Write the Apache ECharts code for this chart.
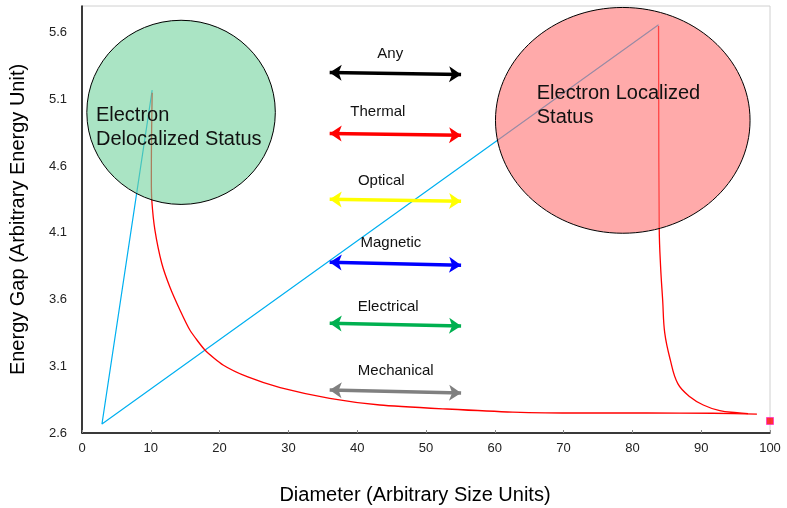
<!DOCTYPE html>
<html>
<head>
<meta charset="utf-8">
<script src="https://cdn.jsdelivr.net/npm/echarts@6/dist/echarts.min.js"></script>
<style>
  html, body { margin: 0; padding: 0; background: #fff; }
  #main { width: 787px; height: 508px; }
</style>
</head>
<body>
<div id="main"></div>
<script>
// red curve, small particles (delocalized branch)
const delocCurve = [
  [10.2, 5.15], [10.1, 4.8], [10.08, 4.5], [10.15, 4.34], [10.6, 4.12], [11.6, 3.87],
  [12.8, 3.69], [14.25, 3.52], [15.7, 3.37], [17.9, 3.22], [20.5, 3.11], [24.1, 3.02],
  [28.8, 2.94], [36.0, 2.86], [43.3, 2.81], [53.0, 2.78], [62.6, 2.757], [72.4, 2.75],
  [82.1, 2.75], [91.7, 2.748], [98.1, 2.742]
];
// red curve, localized branch
const localCurve = [
  [83.8, 5.65], [83.9, 4.13], [84.1, 3.845], [84.4, 3.595], [84.7, 3.35], [85.5, 3.15],
  [86.6, 2.97], [88.4, 2.87], [90.3, 2.81], [92.7, 2.767], [95.2, 2.752], [96.8, 2.745]
];
// blue guide line
const blueLine = [[10.2, 5.17], [2.9, 2.667], [83.8, 5.66]];
// lone marker
const cornerPoint = [[100, 2.69]];

// arrows
const arrowNames = ['Any', 'Thermal', 'Optical', 'Magnetic', 'Electrical', 'Mechanical'];
const arrowXFrom = 36.0;
const arrowXTo = 55.1;
const arrowYLeft = [5.302, 4.845, 4.352, 3.880, 3.423, 2.922];
const arrowYRight = [5.287, 4.831, 4.337, 3.858, 3.401, 2.899];
const arrowLabelX = [44.8, 43.0, 43.5, 44.9, 44.5, 45.6];
const arrowLabelY = [5.444, 5.010, 4.486, 4.022, 3.543, 3.064];

// ellipses: [cx, cy, rx, ry]
const ellipseData = [
  [14.4, 5.003, 13.7, 0.69],
  [78.6, 4.943, 18.5, 0.846]
];
const ellipseText = ['Electron\nDelocalized Status', 'Electron Localized\nStatus'];
const ellipseTextPos = [[2.03, 5.07], [66.1, 5.235]];

const arrowColors = ['#000000', '#ff0000', '#ffff00', '#0000ff', '#00b050', '#808080'];
const ellipseFills = ['rgba(113,210,157,0.6)', 'rgba(255,113,113,0.6)'];
const FONT = 'Liberation Sans, Arial, sans-serif';

const chart = echarts.init(document.getElementById('main'));

const arrowLines = arrowNames.map(function (n, i) {
  return {
    name: n,
    coords: [[arrowXFrom, arrowYLeft[i]], [arrowXTo, arrowYRight[i]]],
    lineStyle: { color: arrowColors[i] }
  };
});

chart.setOption({
  animation: false,
  grid: {
    left: 82, right: 17, top: 6, bottom: 75,
    containLabel: false, outerBoundsMode: 'none',
    show: true, borderColor: '#d0d0d0', borderWidth: 1
  },
  xAxis: {
    type: 'value', min: 0, max: 100, interval: 10,
    name: 'Diameter (Arbitrary Size Units)',
    nameLocation: 'middle', nameGap: 52,
    nameTextStyle: { fontFamily: FONT, fontSize: 20, color: '#000', padding: [0, 22, 0, 0] },
    axisLine: { lineStyle: { color: '#000', width: 1.5 } },
    axisTick: { inside: true, length: 3, lineStyle: { color: '#888' } },
    axisLabel: { fontFamily: FONT, fontSize: 13, color: '#222', margin: 9 },
    splitLine: { show: false }
  },
  yAxis: {
    type: 'value', min: 2.6, max: 5.8, interval: 0.5,
    name: 'Energy Gap (Arbitrary Energy Unit)',
    nameLocation: 'middle', nameGap: 54,
    nameTextStyle: { fontFamily: FONT, fontSize: 20, color: '#000' },
    axisLine: { show: true, lineStyle: { color: '#000', width: 1.5 } },
    axisTick: { show: false },
    axisLabel: {
      fontFamily: FONT, fontSize: 13, color: '#222', margin: 15,
      showMaxLabel: false,
      formatter: function (v) { return v.toFixed(1); }
    },
    splitLine: { show: false }
  },
  series: [
    {
      type: 'line', data: blueLine, showSymbol: false,
      lineStyle: { color: '#00b0f0', width: 1.2 }, z: 2
    },
    {
      type: 'line', data: delocCurve, showSymbol: false, smooth: 0.2,
      lineStyle: { color: '#ff0000', width: 1.3 }, z: 2
    },
    {
      type: 'line', data: localCurve, showSymbol: false, smooth: 0.4,
      lineStyle: { color: '#ff0000', width: 1.3 }, z: 2
    },
    {
      type: 'scatter', data: cornerPoint, symbol: 'rect', symbolSize: 7,
      itemStyle: { color: '#ff0000', borderColor: '#ff33cc', borderWidth: 1 }, z: 3
    },
    {
      type: 'custom', z: 4,
      data: ellipseData,
      renderItem: function (params, api) {
        const c = api.coord([api.value(0), api.value(1)]);
        const s = api.size([api.value(2), api.value(3)]);
        return {
          type: 'ellipse',
          shape: { cx: c[0], cy: c[1], rx: s[0], ry: s[1] },
          style: { fill: ellipseFills[params.dataIndex], stroke: '#000', lineWidth: 1 }
        };
      }
    },
    {
      type: 'custom', z: 5,
      data: ellipseTextPos,
      renderItem: function (params, api) {
        const p = api.coord([api.value(0), api.value(1)]);
        return {
          type: 'text', x: p[0], y: p[1],
          style: {
            text: ellipseText[params.dataIndex],
            font: '20px ' + FONT, fill: '#111', lineHeight: 24,
            textAlign: 'left', textVerticalAlign: 'top'
          }
        };
      }
    },
    {
      type: 'lines', coordinateSystem: 'cartesian2d', z: 5,
      symbol: ['arrow', 'arrow'], symbolSize: 12,
      lineStyle: { width: 3.5, opacity: 1, curveness: 0 },
      data: arrowLines
    },
    {
      type: 'custom', z: 5,
      data: arrowLabelX.map(function (x, i) { return [x, arrowLabelY[i]]; }),
      renderItem: function (params, api) {
        const p = api.coord([api.value(0), api.value(1)]);
        return {
          type: 'text', x: p[0], y: p[1],
          style: {
            text: arrowNames[params.dataIndex],
            font: '15px ' + FONT, fill: '#111',
            textAlign: 'center', textVerticalAlign: 'middle'
          }
        };
      }
    }
  ]
});
</script>
</body>
</html>
